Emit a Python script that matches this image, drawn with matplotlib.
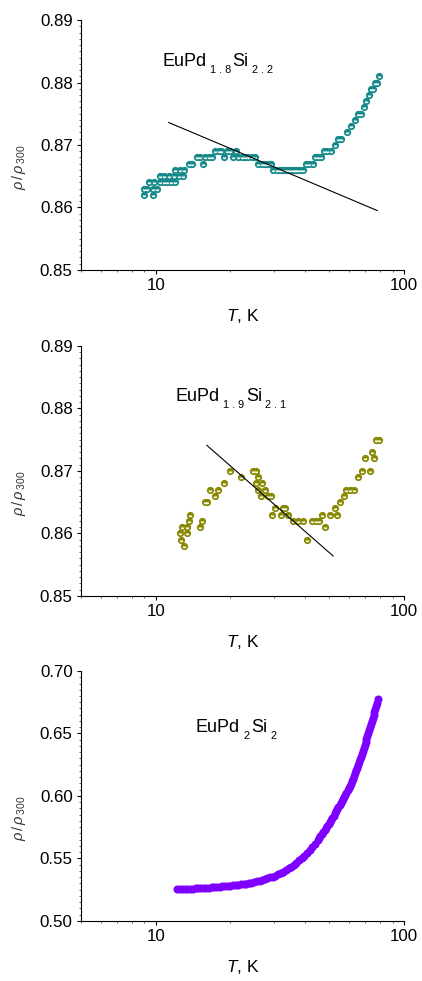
import matplotlib
matplotlib.use("Agg")
import matplotlib.pyplot as plt
import matplotlib.transforms as mtransforms
from matplotlib.ticker import MultipleLocator, FixedLocator, NullFormatter, FormatStrFormatter, LogLocator

plt.rcParams['font.family'] = ['Liberation Sans', 'DejaVu Sans']
plt.rcParams['mathtext.fontset'] = 'custom'
plt.rcParams['mathtext.rm'] = 'Liberation Sans'
plt.rcParams['mathtext.it'] = 'Liberation Sans:italic'

# EuPd1.8Si2.2
T_a = [9.00, 9.00, 9.23, 9.43, 9.76, 9.76, 9.88, 10.12, 10.38, 10.38, 10.77, 10.77,
       11.11, 11.28, 11.52, 11.81, 12.00, 12.00, 12.37, 12.56, 12.88, 12.96, 13.57,
       13.99, 14.66, 15.11, 15.44, 15.83, 16.33, 16.84, 17.36, 17.91, 18.30, 18.76,
       19.34, 19.95, 20.57, 21.09, 21.54, 22.22, 22.92, 23.63, 24.37, 25.14, 25.93,
       26.74, 27.57, 28.44, 29.06, 29.78, 30.72, 31.67, 32.46, 33.17, 33.89, 34.74,
       35.60, 36.38, 37.18, 38.10, 39.05, 40.29, 41.55, 42.85, 43.78, 45.15, 46.57,
       47.58, 49.08, 50.77, 52.68, 54.33, 56.03, 59.02, 61.06, 63.36, 65.35, 67.40,
       69.08, 70.59, 72.13, 73.93, 75.08, 76.25, 77.91, 79.12]
rho_a = [0.862, 0.863, 0.863, 0.864, 0.862, 0.863, 0.864, 0.863, 0.864, 0.865, 0.864, 0.865,
         0.864, 0.865, 0.864, 0.865, 0.864, 0.866, 0.865, 0.866, 0.865, 0.866, 0.867,
         0.867, 0.868, 0.868, 0.867, 0.868, 0.868, 0.868, 0.869, 0.869, 0.869, 0.868,
         0.869, 0.869, 0.868, 0.869, 0.868, 0.868, 0.868, 0.868, 0.868, 0.868, 0.867,
         0.867, 0.867, 0.867, 0.867, 0.866, 0.866, 0.866, 0.866, 0.866, 0.866, 0.866,
         0.866, 0.866, 0.866, 0.866, 0.866, 0.867, 0.867, 0.867, 0.868, 0.868, 0.868,
         0.869, 0.869, 0.869, 0.870, 0.871, 0.871, 0.872, 0.873, 0.874, 0.875, 0.875,
         0.876, 0.877, 0.878, 0.879, 0.879, 0.880, 0.880, 0.881]
fit_T_a = [11.28, 78.2]
fit_rho_a = [0.8736, 0.8595]

# EuPd1.9Si2.1
T_b = [12.56, 12.68, 12.96, 13.36, 12.76, 13.36, 13.65, 13.78, 15.02, 15.35, 15.73,
       16.08, 16.58, 17.26, 17.80, 18.76, 19.95, 22.08, 24.75, 25.29, 25.77, 25.29,
       26.90, 25.93, 27.57, 26.57, 28.44, 29.15, 29.51, 30.25, 31.97, 32.66, 33.17,
       34.21, 35.82, 37.52, 39.05, 40.54, 42.46, 44.19, 45.57, 47.00, 48.32, 50.30,
       52.68, 53.83, 55.52, 57.23, 58.66, 60.87, 62.78, 65.35, 67.60, 69.94, 73.25,
       74.62, 75.78, 76.96, 79.12]
rho_b = [0.860, 0.859, 0.858, 0.860, 0.861, 0.861, 0.862, 0.863, 0.861, 0.862, 0.865,
         0.865, 0.867, 0.866, 0.867, 0.868, 0.870, 0.869, 0.870, 0.870, 0.869, 0.868,
         0.868, 0.867, 0.867, 0.866, 0.866, 0.866, 0.863, 0.864, 0.863, 0.864, 0.864,
         0.863, 0.862, 0.862, 0.862, 0.859, 0.862, 0.862, 0.862, 0.863, 0.861, 0.863,
         0.864, 0.863, 0.865, 0.866, 0.867, 0.867, 0.867, 0.869, 0.870, 0.872, 0.870,
         0.873, 0.872, 0.875, 0.875]
fit_T_b = [16.08, 51.87]
fit_rho_b = [0.8741, 0.8564]

# EuPd2Si2
T_c = [12.2, 12.5, 12.8, 13.1, 13.4, 13.8, 14.1, 14.5, 14.8, 15.2, 15.6, 16.0, 16.4,
       16.8, 17.2, 17.6, 18.1, 18.5, 19.0, 19.5, 20.0, 20.5, 21.0, 21.5, 22.0, 22.6,
       23.1, 23.7, 24.3, 24.9, 25.5, 26.2, 26.8, 27.5, 28.2, 28.9, 29.6, 30.3, 31.1,
       31.9, 32.7, 33.5, 34.3, 35.2, 36.0, 36.9, 37.8, 38.8, 39.7, 40.7, 41.7, 42.8,
       43.8, 44.9, 45.5, 46.1, 46.7, 47.3, 47.9, 48.5, 49.1, 49.7, 50.3, 50.9, 51.5,
       52.1, 52.7, 53.3, 53.9, 54.5, 55.1, 55.7, 56.3, 56.9, 57.5, 58.1, 58.7, 59.3,
       59.9, 60.5, 61.1, 61.7, 62.3, 62.9, 63.5, 64.1, 64.7, 65.3, 65.9, 66.5, 67.1,
       67.7, 68.3, 68.9, 69.5, 70.1, 70.7, 71.3, 71.9, 72.5, 73.1, 73.7, 74.3, 74.9,
       75.5, 76.1, 76.7, 77.3, 77.9, 78.6]
rho_c = [0.5253, 0.5254, 0.5255, 0.5256, 0.5257, 0.5257, 0.5259, 0.5261, 0.5262, 0.5263,
         0.5264, 0.5266, 0.5267, 0.5269, 0.5271, 0.5272, 0.5274, 0.5276, 0.5278, 0.5280,
         0.5283, 0.5286, 0.5288, 0.5290, 0.5293, 0.5296, 0.5299, 0.5303, 0.5307, 0.5312,
         0.5317, 0.5322, 0.5328, 0.5334, 0.5341, 0.5348, 0.5355, 0.5363, 0.5372, 0.5383,
         0.5395, 0.5407, 0.5420, 0.5435, 0.5451, 0.5467, 0.5484, 0.5502, 0.5521, 0.5544,
         0.5566, 0.5592, 0.5618, 0.5648, 0.5664, 0.5681, 0.5697, 0.5714, 0.5730, 0.5747,
         0.5763, 0.5779, 0.5795, 0.5811, 0.5827, 0.5843, 0.5860, 0.5876, 0.5892, 0.5909,
         0.5926, 0.5942, 0.5959, 0.5976, 0.5993, 0.6010, 0.6027, 0.6044, 0.6062, 0.6080,
         0.6099, 0.6118, 0.6138, 0.6160, 0.6182, 0.6204, 0.6226, 0.6248, 0.6270, 0.6292,
         0.6315, 0.6338, 0.6361, 0.6384, 0.6407, 0.6430, 0.6453, 0.6478, 0.6503, 0.6528,
         0.6553, 0.6578, 0.6603, 0.6627, 0.6651, 0.6675, 0.6698, 0.6721, 0.6744, 0.6773]


def style_axes(ax, ylim, ymajor, yminor):
    ax.set_xscale('log')
    ax.set_xlim(5, 100)
    ax.set_ylim(*ylim)
    for s in ('top', 'right'):
        ax.spines[s].set_visible(False)
    for s in ('left', 'bottom'):
        ax.spines[s].set_linewidth(0.8)
    ax.xaxis.set_major_locator(FixedLocator([10, 100]))
    ax.xaxis.set_major_formatter(FormatStrFormatter('%g'))
    ax.xaxis.set_minor_locator(LogLocator(base=10, subs=range(2, 10)))
    ax.xaxis.set_minor_formatter(NullFormatter())
    ax.yaxis.set_major_locator(MultipleLocator(ymajor))
    ax.yaxis.set_minor_locator(MultipleLocator(yminor))
    ax.tick_params(which='major', direction='out', length=3, width=0.8,
                   labelsize=12.2, pad=3)
    ax.tick_params(which='minor', direction='out', length=1.7, width=0.6,
                   color='#444444')
    ax.set_xlabel(r'$\it{T}$, K', fontsize=12.5, labelpad=10)
    ax.set_ylabel(r'$\it{\rho}\,/\,\it{\rho}_{\,300}$', fontsize=10.5, color='#333333')
    ax.yaxis.set_label_coords(-0.165, 0.41)


def shaded(ax, x, y, color, ms):
    ax.plot(x, y, 'o', color=color, ms=ms, mew=0, zorder=3)
    ax.plot(x, y, 'o', ms=ms * 0.5, mew=0, fillstyle='bottom',
            markerfacecolor='white', markerfacecoloralt='none', zorder=4)


def formula(ax, x, y, parts, size=13, subsize=7.8):
    # chemical formula written piece by piece, subscripts lowered and smaller
    renderer = fig.canvas.get_renderer()
    offset = 0.0
    prev_sub = None
    for s, sub in parts:
        if prev_sub is not None:
            offset += 2.2 if sub else 1.2
        tr = mtransforms.offset_copy(ax.transData, fig=fig, x=offset,
                                     y=-5 if sub else 0, units='points')
        t = ax.text(x, y, s, fontsize=subsize if sub else size, transform=tr)
        offset += t.get_window_extent(renderer).width * 72 / fig.dpi
        prev_sub = sub


fig = plt.figure(figsize=(4.22, 9.81), dpi=100)
ax1 = fig.add_axes([0.192, 0.7248, 0.765, 0.2548])
ax2 = fig.add_axes([0.192, 0.3925, 0.765, 0.2548])
ax3 = fig.add_axes([0.192, 0.0612, 0.765, 0.2548])

style_axes(ax1, (0.85, 0.89), 0.01, 0.001)
shaded(ax1, T_a, rho_a, '#15898a', 5.2)
ax1.plot(fit_T_a, fit_rho_a, color='black', lw=0.8, zorder=5)
formula(ax1, 10.64, 0.8826, [('EuPd', False), ('1 . 8', True), ('Si', False), ('2 . 2', True)])

style_axes(ax2, (0.85, 0.89), 0.01, 0.001)
shaded(ax2, T_b, rho_b, '#888800', 5.2)
ax2.plot(fit_T_b, fit_rho_b, color='black', lw=0.8, zorder=5)
formula(ax2, 12.07, 0.8812, [('EuPd', False), ('1 . 9', True), ('Si', False), ('2 . 1', True)])

style_axes(ax3, (0.50, 0.70), 0.05, 0.005)
ax3.plot(T_c, rho_c, 'o', color='#7f00ff', ms=5.8, mew=0)
formula(ax3, 14.53, 0.6514, [('EuPd', False), ('2', True), ('Si', False), ('2', True)])

fig.savefig('out.png', dpi=100)
